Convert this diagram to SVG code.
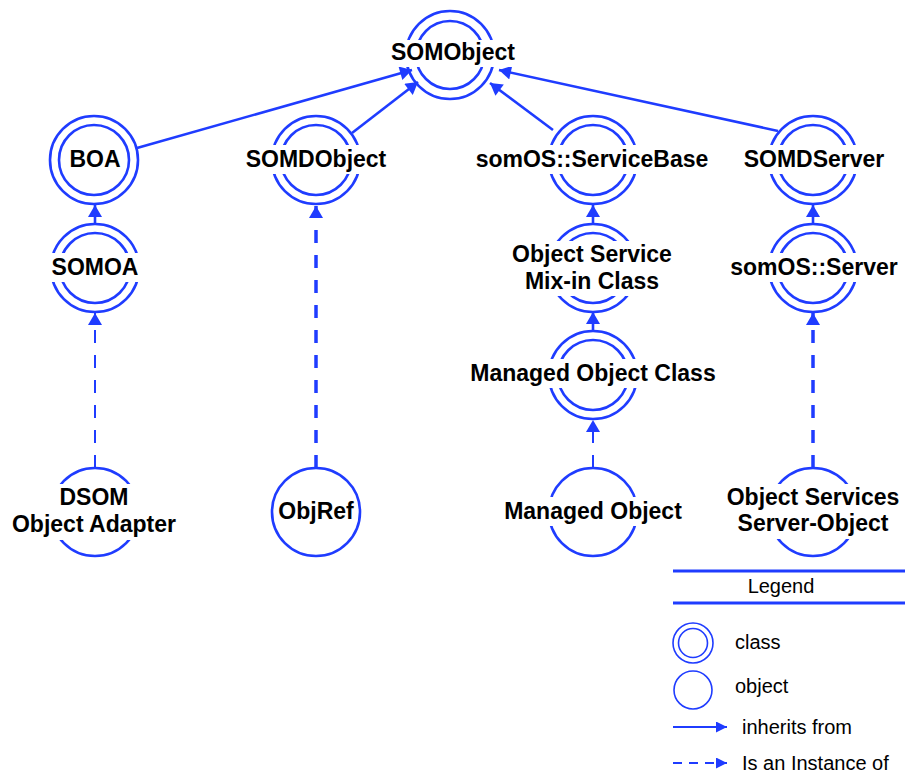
<svg xmlns="http://www.w3.org/2000/svg" width="905" height="774" viewBox="0 0 905 774">
<defs>
<style>
.o{fill:none;stroke:#1f3cff;stroke-width:2.6}
.i{fill:none;stroke:#1f3cff;stroke-width:2.6}
.bg{fill:#fff}
.t{font-family:"Liberation Sans",Arial,sans-serif;font-weight:bold;font-size:23px;fill:#000;text-anchor:middle}
.lt{font-family:"Liberation Sans",Arial,sans-serif;font-size:20px;fill:#000}
.inh{stroke:#1f3cff;stroke-width:2.6;fill:none}
.ins{stroke:#1f3cff;stroke-width:2;fill:none;stroke-dasharray:13 12}
.insT{stroke:#1f3cff;stroke-width:3.5;fill:none;stroke-dasharray:13 12}
.leg{fill:none;stroke:#1f3cff;stroke-width:1.6}
</style>
<marker id="ah" markerUnits="userSpaceOnUse" markerWidth="14" markerHeight="14" viewBox="0 0 12 14" refX="12" refY="7" orient="auto">
<path d="M0,0 L12,7 L0,14 z" fill="#1f3cff"/>
</marker>
<marker id="ahs" markerUnits="userSpaceOnUse" markerWidth="11" markerHeight="11" viewBox="0 0 10 10" refX="10" refY="5" orient="auto">
<path d="M0,0 L10,5 L0,10 z" fill="#1f3cff"/>
</marker>
</defs>
<rect width="905" height="774" fill="#fff"/>

<g id="connectors">
<line class="inh" x1="137" y1="148" x2="412" y2="70" marker-end="url(#ah)"/>
<line class="inh" x1="352" y1="133" x2="418" y2="82" marker-end="url(#ah)"/>
<line class="inh" x1="553" y1="130" x2="490" y2="83" marker-end="url(#ah)"/>
<line class="inh" x1="778" y1="131" x2="499" y2="70" marker-end="url(#ah)"/>
<line class="inh" x1="95" y1="224" x2="95" y2="205" marker-end="url(#ah)"/>
<line class="inh" x1="593" y1="224" x2="593" y2="205" marker-end="url(#ah)"/>
<line class="inh" x1="593" y1="331" x2="593" y2="312" marker-end="url(#ah)"/>
<line class="inh" x1="813" y1="224" x2="813" y2="205" marker-end="url(#ah)"/>
<line class="ins" x1="95" y1="468" x2="95" y2="313" marker-end="url(#ah)"/>
<line class="insT" x1="316" y1="468" x2="316" y2="206" marker-end="url(#ah)"/>
<line class="ins" x1="593" y1="468" x2="593" y2="420" marker-end="url(#ah)"/>
<line class="insT" x1="813" y1="468" x2="813" y2="313" marker-end="url(#ah)"/>
</g>

<g id="SOMObject">
<circle class="o" cx="450" cy="55" r="44"/><circle class="i" cx="450" cy="55" r="34"/>
<rect class="bg" x="386" y="40" width="136" height="27"/>
<text class="t" x="453" y="60">SOMObject</text>
</g>
<g id="BOA">
<circle class="o" cx="94" cy="160" r="44"/><circle class="i" cx="94" cy="160" r="35"/>
<text class="t" x="95" y="167">BOA</text>
</g>
<g id="SOMDObject">
<circle class="o" cx="316" cy="160" r="44"/><circle class="i" cx="316" cy="160" r="35"/>
<rect class="bg" x="241" y="145" width="150" height="29"/>
<text class="t" x="316" y="167">SOMDObject</text>
</g>
<g id="ServiceBase">
<circle class="o" cx="593" cy="160" r="44"/><circle class="i" cx="593" cy="160" r="35"/>
<rect class="bg" x="471" y="145" width="241" height="29"/>
<text class="t" x="592" y="167">somOS::ServiceBase</text>
</g>
<g id="SOMDServer">
<circle class="o" cx="813" cy="160" r="44"/><circle class="i" cx="813" cy="160" r="35"/>
<rect class="bg" x="739" y="145" width="150" height="29"/>
<text class="t" x="814" y="167">SOMDServer</text>
</g>
<g id="SOMOA">
<circle class="o" cx="95" cy="268" r="44"/><circle class="i" cx="95" cy="268" r="35"/>
<rect class="bg" x="49" y="253" width="92" height="29"/>
<text class="t" x="95" y="275">SOMOA</text>
</g>
<g id="MixIn">
<circle class="o" cx="593" cy="268" r="44"/><circle class="i" cx="593" cy="268" r="35"/>
<rect class="bg" x="506" y="241" width="172" height="55"/>
<text class="t" x="592" y="262">Object Service</text>
<text class="t" x="592" y="289">Mix-in Class</text>
</g>
<g id="somOSServer">
<circle class="o" cx="813" cy="268" r="44"/><circle class="i" cx="813" cy="268" r="35"/>
<rect class="bg" x="726" y="253" width="176" height="29"/>
<text class="t" x="814" y="275">somOS::Server</text>
</g>
<g id="ManagedObjectClass">
<circle class="o" cx="593" cy="375" r="44"/><circle class="i" cx="593" cy="375" r="35"/>
<rect class="bg" x="463" y="359" width="260" height="29"/>
<text class="t" x="593" y="381">Managed Object Class</text>
</g>
<g id="DSOMObjectAdapter">
<circle class="o" cx="95" cy="512" r="44"/>
<rect class="bg" x="6" y="484" width="176" height="56"/>
<text class="t" x="94" y="505">DSOM</text>
<text class="t" x="94" y="532">Object Adapter</text>
</g>
<g id="ObjRef">
<circle class="o" cx="316" cy="512" r="44"/>
<text class="t" x="316" y="519">ObjRef</text>
</g>
<g id="ManagedObject">
<circle class="o" cx="593" cy="512" r="44"/>
<rect class="bg" x="498" y="497" width="190" height="29"/>
<text class="t" x="593" y="519">Managed Object</text>
</g>
<g id="ServerObject">
<circle class="o" cx="813" cy="512" r="44"/>
<rect class="bg" x="723" y="484" width="180" height="55"/>
<text class="t" x="813" y="505">Object Services</text>
<text class="t" x="813" y="531">Server-Object</text>
</g>

<g id="legend">
<line x1="673" y1="571" x2="905" y2="571" stroke="#1f3cff" stroke-width="3"/>
<text class="lt" x="781" y="593" text-anchor="middle">Legend</text>
<line x1="673" y1="603" x2="905" y2="603" stroke="#1f3cff" stroke-width="3"/>
<circle class="leg" cx="693" cy="643" r="20"/><circle class="leg" cx="693" cy="643" r="14.5"/>
<text class="lt" x="735" y="649">class</text>
<circle class="leg" cx="693" cy="690" r="19"/>
<text class="lt" x="735" y="693">object</text>
<line x1="673" y1="727" x2="727" y2="727" stroke="#1f3cff" stroke-width="2" marker-end="url(#ahs)"/>
<text class="lt" x="742" y="734">inherits from</text>
<line x1="673" y1="763" x2="727" y2="763" stroke="#1f3cff" stroke-width="2" stroke-dasharray="9 7" marker-end="url(#ahs)"/>
<text class="lt" x="742" y="770">Is an Instance of</text>
</g>
</svg>
